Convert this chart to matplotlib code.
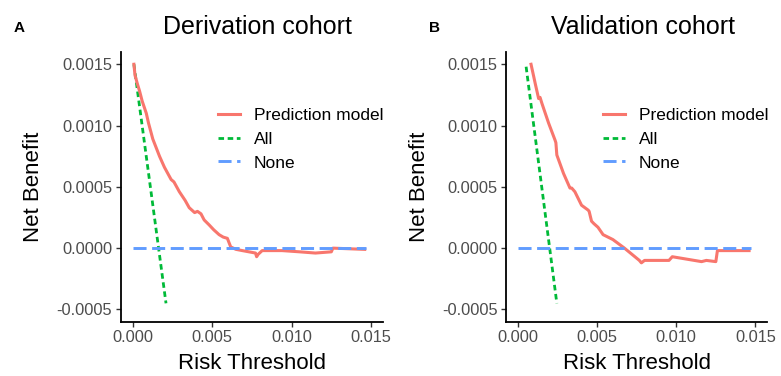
import matplotlib
matplotlib.use("Agg")
import matplotlib.pyplot as plt

plt.rcParams['font.family'] = ['Liberation Sans', 'DejaVu Sans']
plt.rcParams['lines.scale_dashes'] = False

# ---- data ----
deriv_model_x = [0.00008, 0.00015, 0.00030, 0.00044, 0.00060, 0.00086, 0.00100, 0.00127, 0.00169, 0.00200,
                 0.00242, 0.00260, 0.00294, 0.00330, 0.00356, 0.00390, 0.00408, 0.00430, 0.00450,
                 0.00481, 0.00510, 0.00544, 0.00570, 0.00596, 0.00617, 0.00650, 0.00690, 0.00773,
                 0.00780, 0.00790, 0.00815, 0.00940, 0.01050, 0.01150, 0.01250, 0.01260, 0.01460]
deriv_model_y = [0.00150, 0.00141, 0.00134, 0.00128, 0.00120, 0.00110, 0.00102, 0.00089, 0.00075, 0.00066,
                 0.00056, 0.00054, 0.00046, 0.00039, 0.00033, 0.00029, 0.00030, 0.00028, 0.00023,
                 0.00019, 0.00015, 0.00011, 0.00009, 0.00008, 0.00001, -0.00001, -0.00002, -0.00004,
                 -0.00007, -0.00005, -0.00002, -0.00002, -0.00003, -0.00004, -0.00003, 0.00000, -0.00001]
deriv_all_x = [0.00008, 0.00210]
deriv_all_y = [0.00150, -0.00045]

valid_model_x = [0.00083, 0.00100, 0.00110, 0.00131, 0.00140, 0.00152, 0.00194, 0.00235, 0.00240,
                 0.00246, 0.00288, 0.00329, 0.00340, 0.00360, 0.00402, 0.00444, 0.00450, 0.00465,
                 0.00480, 0.00506, 0.00538, 0.00600, 0.00673, 0.00767, 0.00780, 0.00800, 0.00954,
                 0.00975, 0.01160, 0.01190, 0.01250, 0.01260, 0.01460]
valid_model_y = [0.00150, 0.00140, 0.00134, 0.00122, 0.00123, 0.00118, 0.00102, 0.00088, 0.00086,
                 0.00076, 0.00061, 0.00049, 0.00049, 0.00046, 0.00035, 0.00031, 0.00030, 0.00022,
                 0.00020, 0.00017, 0.00011, 0.00007, 0.00000, -0.00010, -0.00012, -0.00010, -0.00010,
                 -0.00007, -0.00011, -0.00010, -0.00011, -0.00002, -0.00002]
valid_all_x = [0.00052, 0.00246]
valid_all_y = [0.00148, -0.00045]

none_x = [0.0, 0.0147]
none_y = [0.0, 0.0]

x_ticks = [0.000, 0.005, 0.010, 0.015]
x_ticklabels = ["0.000", "0.005", "0.010", "0.015"]
y_ticks = [-0.0005, 0.0000, 0.0005, 0.0010, 0.0015]
y_ticklabels = ["-0.0005", "0.0000", "0.0005", "0.0010", "0.0015"]

titles = ["Derivation cohort", "Validation cohort"]
tags = ["A", "B"]
series_labels = ["Prediction model", "All", "None"]

RED = "#F8766D"
GREEN = "#00BA38"
BLUE = "#619CFF"

W, H = 781, 376
fig = plt.figure(figsize=(W / 100, H / 100), dpi=100)

panels = [
    (deriv_model_x, deriv_model_y, deriv_all_x, deriv_all_y, 120.7, 262.3),
    (valid_model_x, valid_model_y, valid_all_x, valid_all_y, 506.0, 261.3),
]
top_px, bot_px = 52.0, 321.7

for i, (mx, my, ax_x, ax_y, left_px, w_px) in enumerate(panels):
    ax = fig.add_axes([left_px / W, 1 - bot_px / H, w_px / W, (bot_px - top_px) / H])
    ax.plot(mx, my, color=RED, lw=2.2, solid_joinstyle='round', label=series_labels[0], zorder=3)
    ax.plot(ax_x, ax_y, color=GREEN, lw=2.0, linestyle=(0, (4.0, 2.6)), label=series_labels[1], zorder=2)
    ax.plot(none_x, none_y, color=BLUE, lw=2.1, linestyle=(0, (9.4, 4.0)), label=series_labels[2], zorder=4)

    ax.set_xlim(-0.00075, 0.01575)
    ax.set_ylim(-0.0006, 0.0016)
    ax.set_xticks(x_ticks)
    ax.set_xticklabels(x_ticklabels)
    ax.set_yticks(y_ticks)
    ax.set_yticklabels(y_ticklabels)
    ax.tick_params(axis='both', labelsize=11.8, labelcolor='#4D4D4D', color='#333333',
                   length=3.5, width=1.0, pad=2.5)
    for s in ['top', 'right']:
        ax.spines[s].set_visible(False)
    for s in ['left', 'bottom']:
        ax.spines[s].set_linewidth(1.3)
        ax.spines[s].set_color('black')

    ax.set_xlabel("Risk Threshold", fontsize=16, labelpad=6)
    ax.set_ylabel("Net Benefit", fontsize=16, labelpad=9)

    ax.text(0.523, 1 + (top_px - 27) / (bot_px - top_px), titles[i], transform=ax.transAxes,
            ha='center', va='center', fontsize=18)

    leg = ax.legend(loc='center left', bbox_to_anchor=(0.372, 0.677), frameon=False,
                    fontsize=12.5, handlelength=1.25, handletextpad=0.8, labelspacing=0.5,
                    borderpad=0, borderaxespad=0)

fig.text(18.7 / W, 1 - 28.3 / H, tags[0], fontsize=11, fontweight='bold', ha='center', va='center')
fig.text(435 / W, 1 - 28.3 / H, tags[1], fontsize=11, fontweight='bold', ha='center', va='center')

fig.savefig("out.png", dpi=100)
